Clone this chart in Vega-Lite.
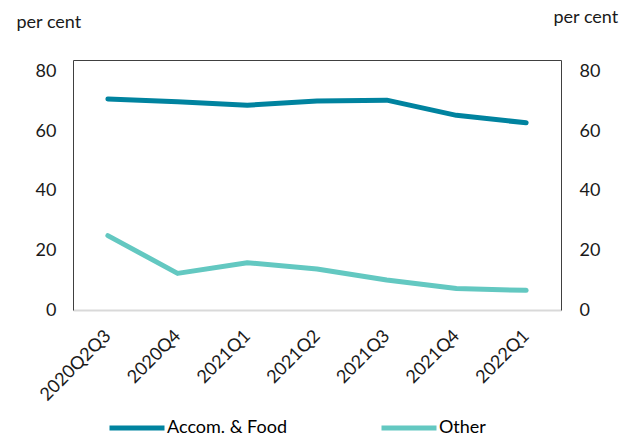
{
  "$schema": "https://vega.github.io/schema/vega-lite/v6.json",
  "width": 488,
  "height": 250,
  "autosize": "none",
  "padding": {"left": 73, "top": 60, "right": 72, "bottom": 131},
  "background": "white",
  "config": {
    "view": {"stroke": null},
    "font": "Lato",
    "axis": {"labelFont": "Lato", "titleFont": "Lato", "labelColor": "#1a1a1a", "titleColor": "#1a1a1a", "grid": false, "ticks": false},
    "legend": {"labelFont": "Lato"}
  },
  "data": {
    "values": [
      {"q": "2020Q2Q3", "s": "Accom. & Food", "v": 70.9},
      {"q": "2020Q4", "s": "Accom. & Food", "v": 70.0},
      {"q": "2021Q1", "s": "Accom. & Food", "v": 68.8},
      {"q": "2021Q2", "s": "Accom. & Food", "v": 70.2},
      {"q": "2021Q3", "s": "Accom. & Food", "v": 70.5},
      {"q": "2021Q4", "s": "Accom. & Food", "v": 65.4},
      {"q": "2022Q1", "s": "Accom. & Food", "v": 62.9},
      {"q": "2020Q2Q3", "s": "Other", "v": 25.0},
      {"q": "2020Q4", "s": "Other", "v": 12.3},
      {"q": "2021Q1", "s": "Other", "v": 15.9},
      {"q": "2021Q2", "s": "Other", "v": 13.8},
      {"q": "2021Q3", "s": "Other", "v": 10.1},
      {"q": "2021Q4", "s": "Other", "v": 7.2},
      {"q": "2022Q1", "s": "Other", "v": 6.6}
    ]
  },
  "resolve": {"axis": {"x": "independent", "y": "independent"}},
  "layer": [
    {
      "mark": {"type": "line", "strokeWidth": 5, "strokeCap": "round", "strokeJoin": "round"},
      "encoding": {
        "x": {
          "field": "q", "type": "ordinal", "sort": null,
          "scale": {"type": "point", "padding": 0.5},
          "axis": {"orient": "bottom", "title": null, "labelAngle": -45, "labelAlign": "right", "labelBaseline": "middle", "labelPadding": 23, "labelFontSize": 18, "domainColor": "#d9d9d9", "domainWidth": 2}
        },
        "y": {
          "field": "v", "type": "quantitative",
          "scale": {"domain": [0, 84], "nice": false},
          "axis": {"orient": "left", "values": [0, 20, 40, 60, 80], "labelFontSize": 18, "labelPadding": 17, "domainColor": "#404040", "domainWidth": 1,
            "title": "per cent", "titleAngle": 0, "titleAlign": "left", "titleBaseline": "middle", "titleX": -57, "titleY": -38, "titleFontSize": 18, "titleFontWeight": "normal"}
        },
        "color": {
          "field": "s", "type": "nominal",
          "scale": {"domain": ["Accom. & Food", "Other"], "range": ["#00839f", "#63c8c1"]},
          "legend": {"title": null, "orient": "none", "direction": "horizontal", "legendX": 34, "legendY": 338, "symbolType": "stroke", "symbolSize": 3025, "symbolStrokeWidth": 5, "labelFontSize": 18, "labelOffset": 0, "columnPadding": 84, "padding": 0}
        }
      }
    },
    {
      "mark": {"type": "line", "opacity": 0},
      "encoding": {
        "x": {"field": "q", "type": "ordinal", "sort": null, "axis": {"orient": "top", "title": null, "labels": false, "domainColor": "#404040", "domainWidth": 1}},
        "y": {
          "field": "v", "type": "quantitative",
          "axis": {"orient": "right", "values": [0, 20, 40, 60, 80], "labelFontSize": 18, "labelPadding": 18, "domainColor": "#404040", "domainWidth": 1,
            "title": "per cent", "titleAngle": 0, "titleAlign": "left", "titleBaseline": "middle", "titleX": -8, "titleY": -43, "titleFontSize": 18, "titleFontWeight": "normal"}
        },
        "detail": {"field": "s"}
      }
    }
  ]
}
